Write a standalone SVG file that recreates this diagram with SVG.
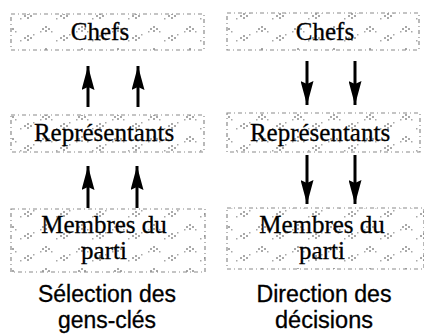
<svg xmlns="http://www.w3.org/2000/svg" width="424" height="334" viewBox="0 0 424 334">
<style>
.box{fill:url(#tex);stroke:#8a8a8a;stroke-width:1.2;stroke-dasharray:4 3 1 3}
.nt{font-family:"Liberation Serif","Times New Roman",serif;font-size:25px;fill:#000;stroke:#000;stroke-width:0.3;text-anchor:middle}
.lb{font-family:"Liberation Sans",Arial,sans-serif;font-size:23px;fill:#000;stroke:#000;stroke-width:0.3;text-anchor:middle}
.ar{stroke:#000;stroke-width:3;fill:none}
</style>
<defs>
<pattern id="tex" width="36" height="22" patternUnits="userSpaceOnUse">
<rect width="36" height="22" fill="#fff"/>
<g fill="#a8a8a8">
<rect x="6" y="6" width="2" height="2"/><rect x="9" y="4" width="2" height="2"/><rect x="9" y="8" width="2" height="2"/><rect x="12" y="6" width="2" height="2"/><rect x="4" y="9" width="1.5" height="1.5"/><rect x="15" y="9" width="1.5" height="1.5"/>
<rect x="24" y="15" width="2" height="2"/><rect x="27" y="13" width="2" height="2"/><rect x="27" y="17" width="2" height="2"/><rect x="30" y="15" width="2" height="2"/><rect x="20" y="18" width="1.5" height="1.5"/><rect x="33" y="12" width="1.5" height="1.5"/>
</g>
</pattern>
<marker id="ah" markerWidth="24" markerHeight="13" refX="24" refY="6.5" orient="auto" markerUnits="userSpaceOnUse" viewBox="0 0 24 13">
<path d="M0,0 L24,6.5 L0,13 L3,6.5 Z" fill="#000"/>
</marker>
</defs>

<g id="connectors">
<line class="ar" x1="88" y1="107" x2="88" y2="66" marker-end="url(#ah)"/>
<line class="ar" x1="138" y1="107" x2="138" y2="66" marker-end="url(#ah)"/>
<line class="ar" x1="88" y1="208" x2="88" y2="166" marker-end="url(#ah)"/>
<line class="ar" x1="137" y1="208" x2="137" y2="166" marker-end="url(#ah)"/>
<line class="ar" x1="307" y1="61" x2="307" y2="105" marker-end="url(#ah)"/>
<line class="ar" x1="355" y1="61" x2="355" y2="105" marker-end="url(#ah)"/>
<line class="ar" x1="307" y1="155" x2="307" y2="204" marker-end="url(#ah)"/>
<line class="ar" x1="355" y1="155" x2="355" y2="204" marker-end="url(#ah)"/>
</g>

<g id="chefs-left">
<rect class="box" x="11" y="14" width="193" height="36"/>
<text class="nt" x="100" y="40">Chefs</text>
</g>
<g id="representants-left">
<rect class="box" x="11" y="115" width="193" height="37"/>
<text class="nt" x="104" y="141">Représentants</text>
</g>
<g id="membres-left">
<rect class="box" x="11" y="209" width="194" height="63"/>
<text class="nt" x="104" y="233">Membres du</text>
<text class="nt" x="104" y="259">parti</text>
</g>
<g id="label-left">
<text class="lb" x="107" y="302" textLength="138" lengthAdjust="spacingAndGlyphs">Sélection des</text>
<text class="lb" x="107" y="328" textLength="98" lengthAdjust="spacingAndGlyphs">gens-clés</text>
</g>

<g id="chefs-right">
<rect class="box" x="227" y="13" width="192" height="37"/>
<text class="nt" x="325" y="40">Chefs</text>
</g>
<g id="representants-right">
<rect class="box" x="227" y="113" width="193" height="39"/>
<text class="nt" x="320" y="141">Représentants</text>
</g>
<g id="membres-right">
<rect class="box" x="227" y="208" width="197" height="61"/>
<text class="nt" x="322" y="233">Membres du</text>
<text class="nt" x="322" y="259">parti</text>
</g>
<g id="label-right">
<text class="lb" x="324" y="302" textLength="135" lengthAdjust="spacingAndGlyphs">Direction des</text>
<text class="lb" x="324" y="328" textLength="98" lengthAdjust="spacingAndGlyphs">décisions</text>
</g>
</svg>
